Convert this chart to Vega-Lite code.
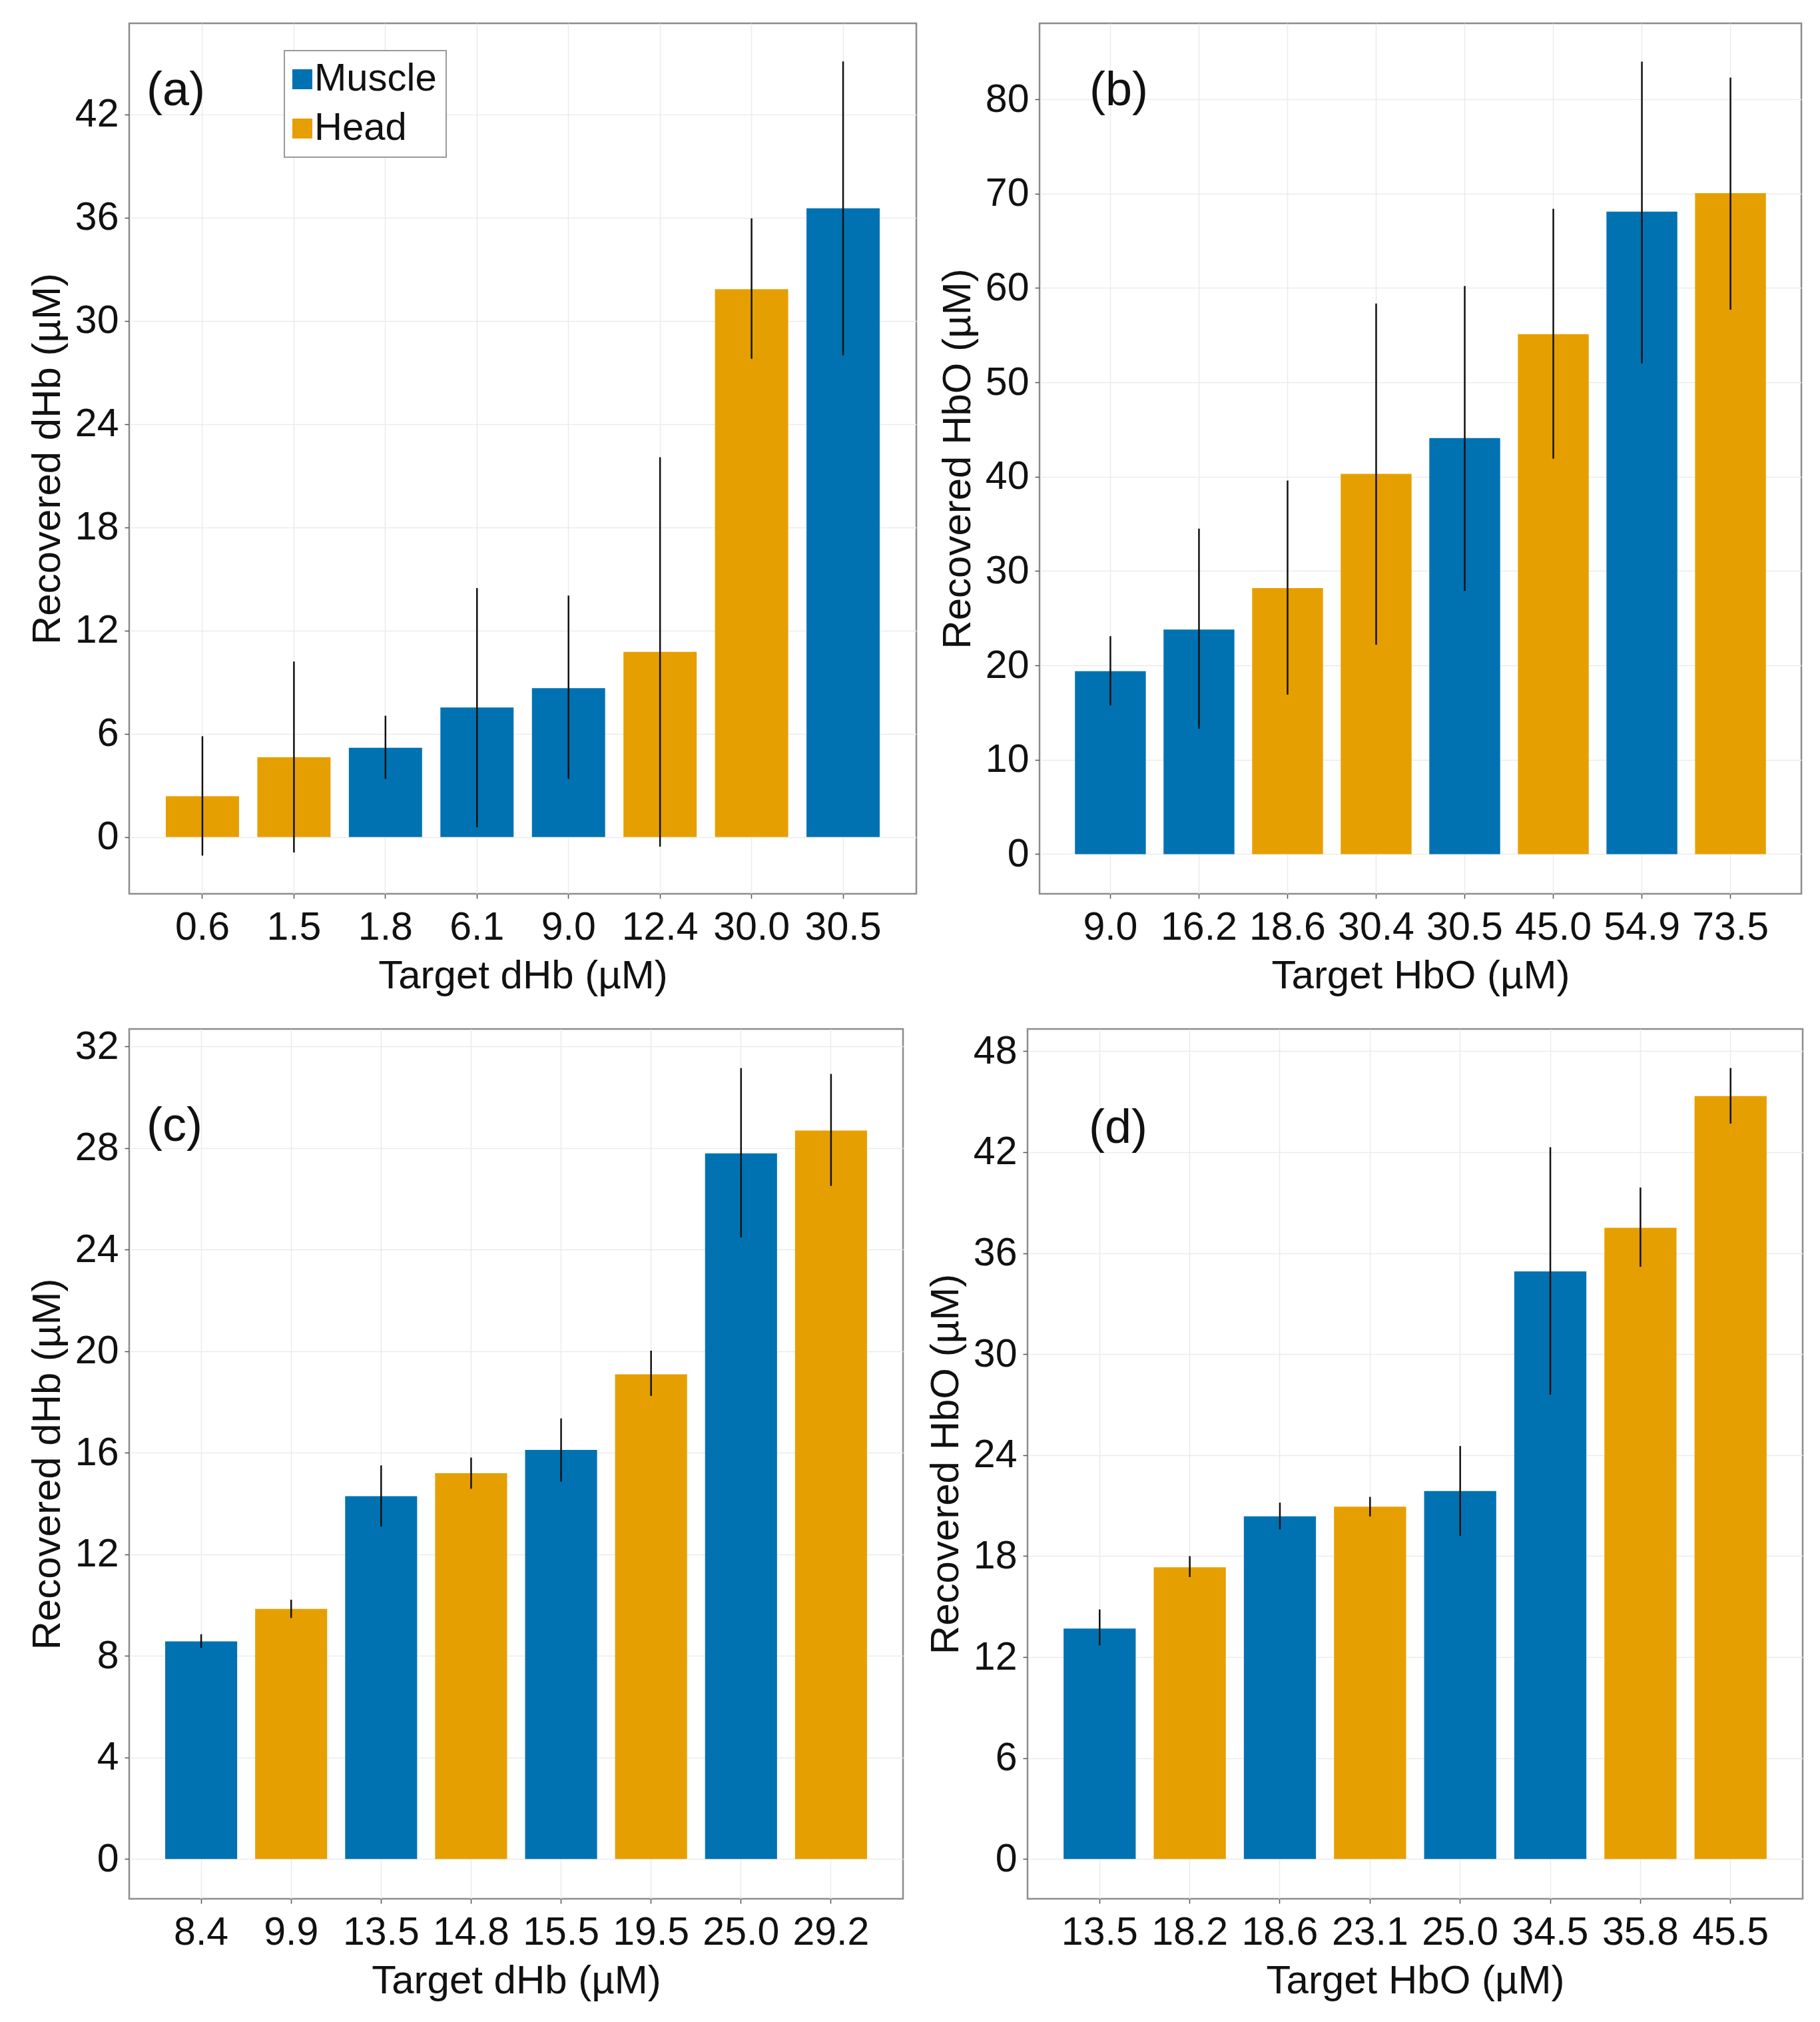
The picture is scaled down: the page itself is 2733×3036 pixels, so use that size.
{
  "$schema": "https://vega.github.io/schema/vega-lite/v6.json",
  "background": "white",
  "padding": {"left": 40, "top": 33, "right": 0, "bottom": 0},
  "datasets": {
    "a": [
      {"target": "0.6", "tissue": "Head", "recovered": 2.37, "lo": -1.08, "hi": 5.86},
      {"target": "1.5", "tissue": "Head", "recovered": 4.64, "lo": -0.9, "hi": 10.2},
      {"target": "1.8", "tissue": "Muscle", "recovered": 5.19, "lo": 3.38, "hi": 7.05},
      {"target": "6.1", "tissue": "Muscle", "recovered": 7.53, "lo": 0.56, "hi": 14.47},
      {"target": "9.0", "tissue": "Muscle", "recovered": 8.65, "lo": 3.38, "hi": 14.03},
      {"target": "12.4", "tissue": "Head", "recovered": 10.76, "lo": -0.56, "hi": 22.08},
      {"target": "30.0", "tissue": "Head", "recovered": 31.84, "lo": 27.8, "hi": 35.96},
      {"target": "30.5", "tissue": "Muscle", "recovered": 36.55, "lo": 28.0, "hi": 45.08}
    ],
    "b": [
      {"target": "9.0", "tissue": "Muscle", "recovered": 19.4, "lo": 15.75, "hi": 23.1},
      {"target": "16.2", "tissue": "Muscle", "recovered": 23.8, "lo": 13.3, "hi": 34.5},
      {"target": "18.6", "tissue": "Head", "recovered": 28.2, "lo": 16.9, "hi": 39.6},
      {"target": "30.4", "tissue": "Head", "recovered": 40.3, "lo": 22.2, "hi": 58.35},
      {"target": "30.5", "tissue": "Muscle", "recovered": 44.1, "lo": 27.9, "hi": 60.2},
      {"target": "45.0", "tissue": "Head", "recovered": 55.1, "lo": 41.9, "hi": 68.4},
      {"target": "54.9", "tissue": "Muscle", "recovered": 68.1, "lo": 52.0, "hi": 84.0},
      {"target": "73.5", "tissue": "Head", "recovered": 70.05, "lo": 57.7, "hi": 82.3}
    ],
    "c": [
      {"target": "8.4", "tissue": "Muscle", "recovered": 8.57, "lo": 8.31, "hi": 8.85},
      {"target": "9.9", "tissue": "Head", "recovered": 9.85, "lo": 9.49, "hi": 10.21},
      {"target": "13.5", "tissue": "Muscle", "recovered": 14.29, "lo": 13.09, "hi": 15.5},
      {"target": "14.8", "tissue": "Head", "recovered": 15.19, "lo": 14.58, "hi": 15.81},
      {"target": "15.5", "tissue": "Muscle", "recovered": 16.11, "lo": 14.86, "hi": 17.35},
      {"target": "19.5", "tissue": "Head", "recovered": 19.09, "lo": 18.24, "hi": 20.02},
      {"target": "25.0", "tissue": "Muscle", "recovered": 27.79, "lo": 24.48, "hi": 31.15},
      {"target": "29.2", "tissue": "Head", "recovered": 28.69, "lo": 26.51, "hi": 30.92}
    ],
    "d": [
      {"target": "13.5", "tissue": "Muscle", "recovered": 13.7, "lo": 12.7, "hi": 14.83},
      {"target": "18.2", "tissue": "Head", "recovered": 17.34, "lo": 16.76, "hi": 18.0},
      {"target": "18.6", "tissue": "Muscle", "recovered": 20.36, "lo": 19.59, "hi": 21.18},
      {"target": "23.1", "tissue": "Head", "recovered": 20.94, "lo": 20.36, "hi": 21.52},
      {"target": "25.0", "tissue": "Muscle", "recovered": 21.87, "lo": 19.2, "hi": 24.54},
      {"target": "34.5", "tissue": "Muscle", "recovered": 34.92, "lo": 27.6, "hi": 42.3},
      {"target": "35.8", "tissue": "Head", "recovered": 37.51, "lo": 35.19, "hi": 39.9},
      {"target": "45.5", "tissue": "Head", "recovered": 45.33, "lo": 43.7, "hi": 47.0}
    ]
  },
  "config": {
    "font": "Liberation Sans",
    "view": {"stroke": "#8c8c8c", "strokeWidth": 2.5},
    "axis": {
      "labelFont": "Liberation Sans", "titleFont": "Liberation Sans",
      "labelFontSize": 59, "titleFontSize": 60, "titleFontWeight": "normal",
      "labelColor": "#111111", "titleColor": "#111111",
      "domain": false, "tickColor": "#555555", "tickSize": 7, "tickWidth": 1.5,
      "grid": true, "gridColor": "#ebebeb", "gridWidth": 1.5
    },
    "axisX": {"labelPadding": 14, "titlePadding": 14, "labelAngle": 0, "bandPosition": 0.5},
    "axisY": {"labelPadding": 9, "titlePadding": 10},
    "legend": {"strokeWidth": 2}
  },
  "spacing": 44,
  "resolve": {"scale": {"color": "independent"}},
  "vconcat": [
    {
      "spacing": 29,
      "resolve": {"scale": {"color": "independent"}},
      "hconcat": [
        {
          "width": 1182, "height": 1307,
          "data": {"name": "a"},
          "title": {"text": "(a)", "anchor": "start", "frame": "group", "offset": -173, "dx": 26, "baseline": "middle", "fontSize": 72, "font": "Liberation Sans", "fontWeight": "normal", "color": "#111111"},
          "encoding": {"x": {"field": "target", "type": "nominal", "sort": null, "scale": {"paddingInner": 0.2, "paddingOuter": 0.4}, "axis": {"title": "Target dHb (µM)"}}},
          "layer": [
            {"mark": {"type": "bar"},
             "encoding": {
               "y": {"field": "recovered", "type": "quantitative", "scale": {"domain": [-3.3, 47.3], "nice": false, "zero": false}, "axis": {"title": "Recovered dHb (µM)", "values": [0, 6, 12, 18, 24, 30, 36, 42]}},
               "y2": {"datum": 0},
               "color": {"field": "tissue", "type": "nominal", "scale": {"domain": ["Muscle", "Head"], "range": ["#0072B2", "#E69F00"]},
                 "legend": {"orient": "none", "legendX": 233, "legendY": 41, "title": null, "symbolType": "square", "symbolSize": 900, "symbolStrokeWidth": 0, "symbolOffset": -16, "labelFontSize": 58, "labelFont": "Liberation Sans", "labelColor": "#111111", "labelLimit": 500, "padding": 14, "rowPadding": 16, "labelOffset": -11, "strokeColor": "#999999", "fillColor": "white"}}
             }},
            {"mark": {"type": "rule", "color": "#111111", "strokeWidth": 2.5},
             "encoding": {
               "y": {"field": "lo", "type": "quantitative", "axis": {"title": "Recovered dHb (µM)", "values": [0, 6, 12, 18, 24, 30, 36, 42]}},
               "y2": {"field": "hi"}
             }}
          ]
        },
        {
          "width": 1144, "height": 1307,
          "data": {"name": "b"},
          "title": {"text": "(b)", "anchor": "start", "frame": "group", "offset": -173, "dx": 75, "baseline": "middle", "fontSize": 72, "font": "Liberation Sans", "fontWeight": "normal", "color": "#111111"},
          "encoding": {"x": {"field": "target", "type": "nominal", "sort": null, "scale": {"paddingInner": 0.2, "paddingOuter": 0.4}, "axis": {"title": "Target HbO (µM)"}}},
          "layer": [
            {"mark": {"type": "bar"},
             "encoding": {
               "y": {"field": "recovered", "type": "quantitative", "scale": {"domain": [-4.2, 88.05], "nice": false, "zero": false}, "axis": {"title": "Recovered HbO (µM)", "values": [0, 10, 20, 30, 40, 50, 60, 70, 80]}},
               "y2": {"datum": 0},
               "color": {"field": "tissue", "type": "nominal", "scale": {"domain": ["Muscle", "Head"], "range": ["#0072B2", "#E69F00"]}, "legend": null}
             }},
            {"mark": {"type": "rule", "color": "#111111", "strokeWidth": 2.5},
             "encoding": {
               "y": {"field": "lo", "type": "quantitative", "axis": {"title": "Recovered HbO (µM)", "values": [0, 10, 20, 30, 40, 50, 60, 70, 80]}},
               "y2": {"field": "hi"}
             }}
          ]
        }
      ]
    },
    {
      "spacing": 31,
      "resolve": {"scale": {"color": "independent"}},
      "hconcat": [
        {
          "width": 1162, "height": 1306,
          "data": {"name": "c"},
          "title": {"text": "(c)", "anchor": "start", "frame": "group", "offset": -221, "dx": 26, "baseline": "middle", "fontSize": 72, "font": "Liberation Sans", "fontWeight": "normal", "color": "#111111"},
          "encoding": {"x": {"field": "target", "type": "nominal", "sort": null, "scale": {"paddingInner": 0.2, "paddingOuter": 0.4}, "axis": {"title": "Target dHb (µM)"}}},
          "layer": [
            {"mark": {"type": "bar"},
             "encoding": {
               "y": {"field": "recovered", "type": "quantitative", "scale": {"domain": [-1.57, 32.69], "nice": false, "zero": false}, "axis": {"title": "Recovered dHb (µM)", "values": [0, 4, 8, 12, 16, 20, 24, 28, 32]}},
               "y2": {"datum": 0},
               "color": {"field": "tissue", "type": "nominal", "scale": {"domain": ["Muscle", "Head"], "range": ["#0072B2", "#E69F00"]}, "legend": null}
             }},
            {"mark": {"type": "rule", "color": "#111111", "strokeWidth": 2.5},
             "encoding": {
               "y": {"field": "lo", "type": "quantitative", "axis": {"title": "Recovered dHb (µM)", "values": [0, 4, 8, 12, 16, 20, 24, 28, 32]}},
               "y2": {"field": "hi"}
             }}
          ]
        },
        {
          "width": 1164, "height": 1306,
          "data": {"name": "d"},
          "title": {"text": "(d)", "anchor": "start", "frame": "group", "offset": -221, "dx": 92, "baseline": "middle", "fontSize": 72, "font": "Liberation Sans", "fontWeight": "normal", "color": "#111111"},
          "encoding": {"x": {"field": "target", "type": "nominal", "sort": null, "scale": {"paddingInner": 0.2, "paddingOuter": 0.4}, "axis": {"title": "Target HbO (µM)"}}},
          "layer": [
            {"mark": {"type": "bar"},
             "encoding": {
               "y": {"field": "recovered", "type": "quantitative", "scale": {"domain": [-2.36, 49.32], "nice": false, "zero": false}, "axis": {"title": "Recovered HbO (µM)", "values": [0, 6, 12, 18, 24, 30, 36, 42, 48]}},
               "y2": {"datum": 0},
               "color": {"field": "tissue", "type": "nominal", "scale": {"domain": ["Muscle", "Head"], "range": ["#0072B2", "#E69F00"]}, "legend": null}
             }},
            {"mark": {"type": "rule", "color": "#111111", "strokeWidth": 2.5},
             "encoding": {
               "y": {"field": "lo", "type": "quantitative", "axis": {"title": "Recovered HbO (µM)", "values": [0, 6, 12, 18, 24, 30, 36, 42, 48]}},
               "y2": {"field": "hi"}
             }}
          ]
        }
      ]
    }
  ]
}
